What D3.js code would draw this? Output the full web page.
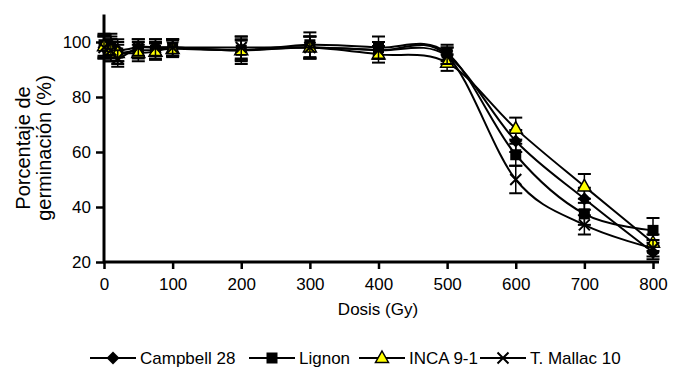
<!DOCTYPE html>
<html>
<head>
<meta charset="utf-8">
<script src="https://cdn.jsdelivr.net/npm/d3@7"></script>
<style>
  body { margin: 0; background: #fff; }
  text { font-family: "Liberation Sans", Arial, sans-serif; fill: #000; }
</style>
</head>
<body>
<div id="chart"></div>
<script>

var doses = [0, 10, 20, 50, 75, 100, 200, 300, 400, 500, 600, 700, 800];

var campbell    = [98, 99, 97, 98, 98, 98, 97, 98, 97, 95, 64, 43, 23.5];
var campbellErr = [4, 4, 4, 3, 3, 3, 4, 4, 3, 3, 4, 4, 2.5];
var lignon      = [99, 98, 96, 97, 97, 98, 97, 99, 98, 96, 59, 37.5, 31.5];
var lignonErr   = [4, 4, 4, 3, 3, 3, 5, 4.5, 4, 3, 4, 4, 4.5];
var inca        = [98.5, 97, 96, 96, 96.5, 97.5, 97, 98, 95.5, 92.5, 68.5, 47.5, 27];
var incaErr     = [4, 4, 3, 3, 3, 3, 3.5, 4, 3, 3, 4, 4.5, 3];
var mallac      = [98, 97, 94, 98, 98, 98, 98, 98, 97, 95, 50, 33.5, 25];
var mallacErr   = [4, 4, 3, 3, 3, 3, 4, 4, 3, 3, 5, 3.5, 3];

var seriesNames = ["Campbell 28", "Lignon", "INCA 9-1", "T. Mallac 10"];
var yTicks = [20, 40, 60, 80, 100];
var xTicks = [0, 100, 200, 300, 400, 500, 600, 700, 800];

var width = 682, height = 371;

var svg = d3.select("#chart").append("svg")
  .attr("width", width)
  .attr("height", height);

var x = d3.scaleLinear().domain([0, 800]).range([104, 653]);
var y = d3.scaleLinear().domain([20, 110]).range([262, 14.5]);

var series = [
  { name: seriesNames[0], vals: campbell, err: campbellErr, shape: "diamond" },
  { name: seriesNames[1], vals: lignon,   err: lignonErr,   shape: "square" },
  { name: seriesNames[2], vals: inca,     err: incaErr,     shape: "triangle" },
  { name: seriesNames[3], vals: mallac,   err: mallacErr,   shape: "cross" }
];

// axes
var yAxis = svg.append("g")
  .attr("transform", "translate(" + x(0) + ",0)")
  .call(d3.axisLeft(y).tickValues(yTicks).tickSize(8).tickSizeOuter(0));
yAxis.select(".domain").remove();
yAxis.selectAll("line").attr("stroke", "#000").attr("stroke-width", 2.5);
yAxis.selectAll("text").attr("font-size", 17).attr("x", -13)
  .style("font-family", "Liberation Sans, Arial, sans-serif");

var xAxis = svg.append("g")
  .attr("transform", "translate(0," + y(20) + ")")
  .call(d3.axisBottom(x).tickValues(xTicks).tickSize(7).tickSizeOuter(0));
xAxis.select(".domain").remove();
xAxis.selectAll("line").attr("stroke", "#000").attr("stroke-width", 2.5);
xAxis.selectAll("text").attr("font-size", 17).attr("y", 16)
  .style("font-family", "Liberation Sans, Arial, sans-serif");

svg.append("line")
  .attr("x1", x(0)).attr("x2", x(0))
  .attr("y1", y(20) + 1).attr("y2", y(110))
  .attr("stroke", "#000").attr("stroke-width", 3);
svg.append("line")
  .attr("x1", x(0) - 1).attr("x2", x(800) + 6)
  .attr("y1", y(20)).attr("y2", y(20))
  .attr("stroke", "#000").attr("stroke-width", 3);

// axis titles
svg.append("text")
  .attr("transform", "translate(30,148) rotate(-90)")
  .attr("text-anchor", "middle")
  .attr("font-size", 20)
  .text("Porcentaje de");
svg.append("text")
  .attr("transform", "translate(51,148) rotate(-90)")
  .attr("text-anchor", "middle")
  .attr("font-size", 20)
  .text("germinación (%)");

svg.append("text")
  .attr("x", 378).attr("y", 315)
  .attr("text-anchor", "middle")
  .attr("font-size", 17)
  .text("Dosis (Gy)");

function drawMarker(g, shape, cx, cy) {
  if (shape == "diamond") {
    g.append("path")
      .attr("d", "M" + cx + "," + (cy - 6.5) + "L" + (cx + 6.5) + "," + cy + "L" + cx + "," + (cy + 6.5) + "L" + (cx - 6.5) + "," + cy + "Z")
      .attr("fill", "#000");
  } else if (shape == "square") {
    g.append("rect")
      .attr("x", cx - 5.5).attr("y", cy - 5.5)
      .attr("width", 11).attr("height", 11)
      .attr("fill", "#000");
  } else if (shape == "triangle") {
    g.append("path")
      .attr("d", "M" + cx + "," + (cy - 7) + "L" + (cx + 6.5) + "," + (cy + 4.5) + "L" + (cx - 6.5) + "," + (cy + 4.5) + "Z")
      .attr("fill", "#ffff00").attr("stroke", "#000").attr("stroke-width", 1.5);
  } else {
    g.append("path")
      .attr("d", "M" + (cx - 5.5) + "," + (cy - 5.5) + "L" + (cx + 5.5) + "," + (cy + 5.5) + "M" + (cx + 5.5) + "," + (cy - 5.5) + "L" + (cx - 5.5) + "," + (cy + 5.5))
      .attr("stroke", "#000").attr("stroke-width", 2).attr("fill", "none");
  }
}

var line = d3.line()
  .x(function(d) { return x(d[0]); })
  .y(function(d) { return y(d[1]); })
  .curve(d3.curveCardinal.tension(0));

series.forEach(function(s) {
  var g = svg.append("g");
  var pts = doses.map(function(d, i) { return [d, s.vals[i]]; });

  g.append("path")
    .datum(pts)
    .attr("d", line)
    .attr("fill", "none")
    .attr("stroke", "#000")
    .attr("stroke-width", 2);

  // error bars
  doses.forEach(function(d, i) {
    var cx = x(d), top = y(s.vals[i] + s.err[i]), bot = y(s.vals[i] - s.err[i]);
    g.append("line").attr("x1", cx).attr("x2", cx).attr("y1", top).attr("y2", bot)
      .attr("stroke", "#000").attr("stroke-width", 1.5);
    g.append("line").attr("x1", cx - 6.5).attr("x2", cx + 6.5).attr("y1", top).attr("y2", top)
      .attr("stroke", "#000").attr("stroke-width", 2);
    g.append("line").attr("x1", cx - 6.5).attr("x2", cx + 6.5).attr("y1", bot).attr("y2", bot)
      .attr("stroke", "#000").attr("stroke-width", 2);
  });

  doses.forEach(function(d, i) {
    drawMarker(g, s.shape, x(d), y(s.vals[i]));
  });
});

// legend
var legendX = [90, 249, 359, 480];
var legendY = 358;
series.forEach(function(s, i) {
  var lx = legendX[i];
  svg.append("line")
    .attr("x1", lx).attr("x2", lx + 46)
    .attr("y1", legendY).attr("y2", legendY)
    .attr("stroke", "#000").attr("stroke-width", 2);
  drawMarker(svg, s.shape, lx + 23, legendY);
  svg.append("text")
    .attr("x", lx + 50).attr("y", legendY + 6)
    .attr("font-size", 17)
    .text(s.name);
});

</script>
</body>
</html>
